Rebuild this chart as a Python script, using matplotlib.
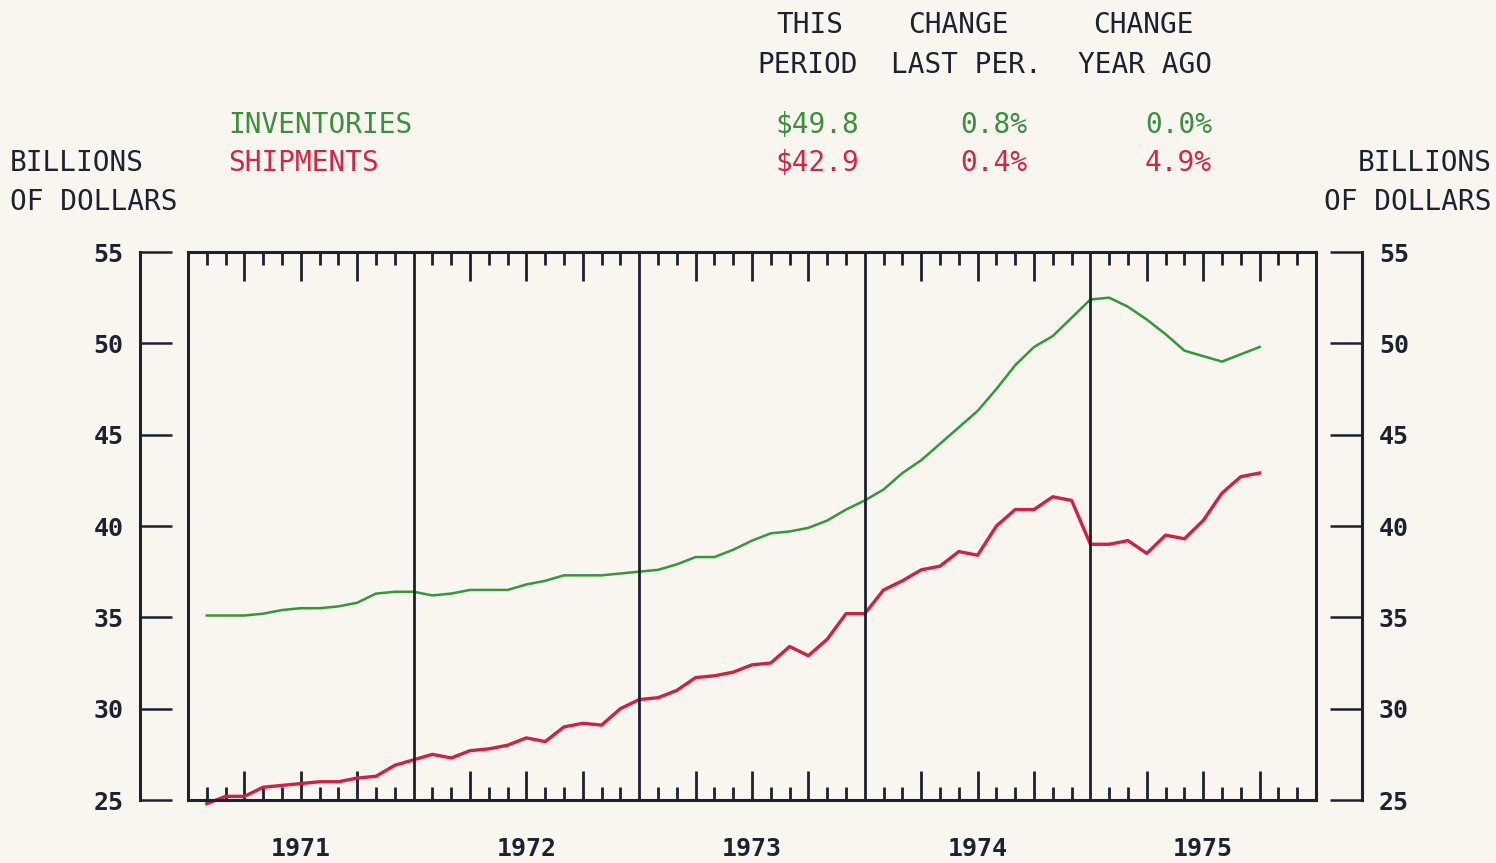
import numpy as np
import matplotlib.pyplot as plt

# figure size in pixels
W, H = 1496, 863

years = [1971, 1972, 1973, 1974, 1975]

# monthly values, Jan 1971 .. Sep 1975 (billions of dollars)
inventories = [35.1, 35.1, 35.1, 35.2, 35.4, 35.5, 35.5, 35.6, 35.8, 36.3, 36.4, 36.4,
               36.2, 36.3, 36.5, 36.5, 36.5, 36.8, 37.0, 37.3, 37.3, 37.3, 37.4, 37.5,
               37.6, 37.9, 38.3, 38.3, 38.7, 39.2, 39.6, 39.7, 39.9, 40.3, 40.9, 41.4,
               42.0, 42.9, 43.6, 44.5, 45.4, 46.3, 47.5, 48.8, 49.8, 50.4, 51.4, 52.4,
               52.5, 52.0, 51.3, 50.5, 49.6, 49.3, 49.0, 49.4, 49.8]
shipments = [24.8, 25.2, 25.2, 25.7, 25.8, 25.9, 26.0, 26.0, 26.2, 26.3, 26.9, 27.2,
             27.5, 27.3, 27.7, 27.8, 28.0, 28.4, 28.2, 29.0, 29.2, 29.1, 30.0, 30.5,
             30.6, 31.0, 31.7, 31.8, 32.0, 32.4, 32.5, 33.4, 32.9, 33.8, 35.2, 35.2,
             36.5, 37.0, 37.6, 37.8, 38.6, 38.4, 40.0, 40.9, 40.9, 41.6, 41.4, 39.0,
             39.0, 39.2, 38.5, 39.5, 39.3, 40.3, 41.8, 42.7, 42.9]
y_ticks = [25, 30, 35, 40, 45, 50, 55]

series_names = ['INVENTORIES', 'SHIPMENTS']
inv_stats = ['$49.8', '0.8%', '0.0%']
shp_stats = ['$42.9', '0.4%', '4.9%']

BG = '#f8f6ee'
INK = '#1c2230'
GREEN = '#2f9a36'
RED = '#d81e40'
GREEN_TXT = '#3b8f3f'
RED_TXT = '#d42545'
FONT = 'DejaVu Sans Mono'

plt.rcParams['font.family'] = FONT


def fx(x):
    return x / W


def fy(y):
    return 1 - y / H


fig = plt.figure(figsize=(W / 100, H / 100), dpi=100, facecolor=BG)

# main framed plot
ax = fig.add_axes([fx(188), 63 / H, 1128 / W, 548 / H], facecolor=BG)
months = years[0] + (np.arange(len(inventories)) + 1) / 12
ax.plot(months, inventories, color=GREEN, lw=1.8, solid_joinstyle='round')
ax.plot(months, shipments, color=RED, lw=2.4, clip_on=False, solid_joinstyle='round')
ax.set_xlim(years[0], years[-1] + 1)
ax.set_ylim(25, 55)
for yr in years[1:]:
    ax.axvline(yr, color=INK, lw=2)
for s in ax.spines.values():
    s.set_color(INK)
    s.set_linewidth(2.2)

quarters = [yr + q / 4 for yr in years for q in (1, 2, 3)]
month_ticks = [yr + m / 12 for yr in years for m in range(1, 12) if m % 3]
ax.set_xticks(quarters)
ax.set_xticks(month_ticks, minor=True)
ax.tick_params(axis='x', which='major', direction='in', length=21, width=2,
               color=INK, top=True, bottom=True, labelbottom=False)
ax.tick_params(axis='x', which='minor', direction='in', length=9.5, width=2,
               color=INK, top=True, bottom=True)
ax.set_yticks([])
for yr in years:
    ax.annotate(str(yr), (yr + 0.5, 25), xytext=(0, -35), textcoords='offset points',
                ha='center', va='center', fontsize=18, fontweight='bold', color=INK)

# separate value scales on both sides
for xpos, side in [(140, 'left'), (1362, 'right')]:
    a = fig.add_axes([fx(xpos), 63 / H, 1e-4, 548 / H])
    a.patch.set_visible(False)
    a.set_ylim(25, 55)
    a.set_xticks([])
    for k, s in a.spines.items():
        s.set_visible(k == side)
        s.set_color(INK)
        s.set_linewidth(2.2)
    a.yaxis.set_ticks_position(side)
    a.set_yticks(y_ticks)
    a.tick_params(axis='y', direction='in', length=23, width=1.8, color=INK,
                  pad=12, labelsize=18, labelcolor=INK)
    if side == 'right':
        a.tick_params(labelleft=False, labelright=True)
    for lbl in a.get_yticklabels():
        lbl.set_fontweight('bold')

# header table
fs = 20
fig.text(fx(810), fy(25), 'THIS', ha='center', va='center', fontsize=fs, color=INK)
fig.text(fx(808), fy(65), 'PERIOD', ha='center', va='center', fontsize=fs, color=INK)
fig.text(fx(958), fy(25), 'CHANGE', ha='center', va='center', fontsize=fs, color=INK)
fig.text(fx(966), fy(65), 'LAST PER.', ha='center', va='center', fontsize=fs, color=INK)
fig.text(fx(1143), fy(25), 'CHANGE', ha='center', va='center', fontsize=fs, color=INK)
fig.text(fx(1145), fy(65), 'YEAR AGO', ha='center', va='center', fontsize=fs, color=INK)

fig.text(fx(228), fy(125), series_names[0], ha='left', va='center', fontsize=fs, color=GREEN_TXT)
fig.text(fx(228), fy(163), series_names[1], ha='left', va='center', fontsize=fs, color=RED_TXT)
for xr, a_val, b_val in zip([859, 1027, 1212], inv_stats, shp_stats):
    fig.text(fx(xr), fy(125), a_val, ha='right', va='center', fontsize=fs, color=GREEN_TXT)
    fig.text(fx(xr), fy(163), b_val, ha='right', va='center', fontsize=fs, color=RED_TXT)

fig.text(fx(10), fy(163), 'BILLIONS', ha='left', va='center', fontsize=fs, color=INK)
fig.text(fx(10), fy(202), 'OF DOLLARS', ha='left', va='center', fontsize=fs, color=INK)
fig.text(fx(1492), fy(163), 'BILLIONS', ha='right', va='center', fontsize=fs, color=INK)
fig.text(fx(1492), fy(202), 'OF DOLLARS', ha='right', va='center', fontsize=fs, color=INK)

fig.savefig('out.png', dpi=100, facecolor=BG)
